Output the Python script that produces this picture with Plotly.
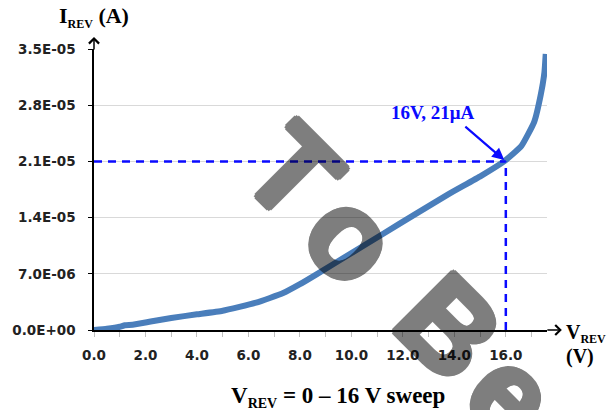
import plotly.graph_objects as go

# ---- data ----
V_VALUES = [0.0, 0.5, 1.0, 1.2, 1.5, 2.2, 3.0, 4.0, 5.0, 6.3, 7.35, 8.0, 8.63, 9.91,
            11.19, 12.47, 13.76, 15.04, 15.93, 16.6, 17.1, 17.35, 17.5, 17.55]
I_VALUES = [0.0, 0.15e-6, 0.4e-6, 0.6e-6, 0.65e-6, 1.05e-6, 1.5e-6, 1.95e-6, 2.4e-6, 3.4e-6,
            4.6e-6, 5.7e-6, 6.9e-6, 9.4e-6, 11.9e-6, 14.4e-6, 16.9e-6, 19.2e-6, 21.0e-6,
            22.9e-6, 25.9e-6, 29.2e-6, 32.1e-6, 34.4e-6]

X_TICK_VALS = [0, 2, 4, 6, 8, 10, 12, 14, 16]
X_TICK_TEXT = ["0.0", "2.0", "4.0", "6.0", "8.0", "10.0", "12.0", "14.0", "16.0"]
Y_TICK_VALS = [0, 7e-6, 1.4e-5, 2.1e-5, 2.8e-5, 3.5e-5]
Y_TICK_TEXT = ["0.0E+00", "7.0E-06", "1.4E-05", "2.1E-05", "2.8E-05", "3.5E-05"]

MARK_V = 16
MARK_I = 2.1e-5
MARK_LABEL = "16V, 21\u03bcA"

WATERMARK = ["T", "o", "B", "e"]

# ---- layout geometry ----
W, H = 608, 410
L, R, T, B = 89, 61, 49, 80
PW, PH = W - L - R, H - T - B


def px(x):
    return (x - L) / PW


def py(y):
    return (H - B - y) / PH


CURVE = "#4a7ebb"
DASH = "#0a0aff"
TICKFONT = dict(family="DejaVu Sans", size=13.5, color="#222222", weight="bold")
SERIF = "Liberation Serif"
SUB = '<sub><span style="font-size:12px">REV</span></sub>'

fig = go.Figure()
fig.add_trace(go.Scatter(x=V_VALUES, y=I_VALUES, mode="lines",
                         line=dict(color=CURVE, width=6, shape="spline", smoothing=0.4),
                         hoverinfo="skip", showlegend=False))

# dashed guide lines to the marked point
fig.add_shape(type="line", x0=0, x1=MARK_V, y0=MARK_I, y1=MARK_I, xref="x", yref="y",
              line=dict(color=DASH, width=2.5, dash="8px,6px"))
fig.add_shape(type="line", x0=MARK_V, x1=MARK_V, y0=0, y1=MARK_I, xref="x", yref="y",
              line=dict(color=DASH, width=2.5, dash="8px,6px"))

annotations = []
# arrow to marked point
annotations.append(dict(x=MARK_V, y=MARK_I, xref="x", yref="y", text="", showarrow=True,
                        ax=-42, ay=-36, arrowhead=2, arrowsize=1.1, arrowwidth=2.2,
                        arrowcolor=DASH, standoff=2))
annotations.append(dict(x=px(432), y=py(112), xref="paper", yref="paper", text="<b>" + MARK_LABEL + "</b>",
                        showarrow=False, font=dict(family=SERIF, size=19, color=DASH),
                        xanchor="center", yanchor="middle"))

# axis arrows
annotations.append(dict(x=0, y=py(37), xref="paper", yref="paper", text="", showarrow=True,
                        ax=0, ay=14, arrowhead=4, arrowsize=1.3, arrowwidth=1.5, arrowcolor="#000"))
annotations.append(dict(x=px(562), y=0, xref="paper", yref="paper", text="", showarrow=True,
                        ax=-16, ay=0, arrowhead=4, arrowsize=1.3, arrowwidth=1.5, arrowcolor="#000"))

# axis titles
annotations.append(dict(x=px(89), y=py(17), xref="paper", yref="paper",
                        text="<b>I" + SUB + " (A)</b>", showarrow=False,
                        font=dict(family=SERIF, size=22, color="#000"), xanchor="center", yanchor="middle"))
annotations.append(dict(x=px(564), y=py(333), xref="paper", yref="paper",
                        text="<b>V" + SUB + "</b>", showarrow=False,
                        font=dict(family=SERIF, size=20, color="#000"), xanchor="left", yanchor="middle"))
annotations.append(dict(x=px(564), y=py(356), xref="paper", yref="paper",
                        text="<b>(V)</b>", showarrow=False,
                        font=dict(family=SERIF, size=20, color="#000"), xanchor="left", yanchor="middle"))
annotations.append(dict(x=px(336), y=py(397), xref="paper", yref="paper",
                        text="<b>V" + '<sub><span style="font-size:14px">REV</span></sub>'
                             + " = 0 \u2013 16 V sweep</b>", showarrow=False,
                        font=dict(family=SERIF, size=23, color="#000"), xanchor="center", yanchor="middle"))

# watermark letters
WM_POS = [(290, 173), (350, 237), (448, 327), (512, 395)]
SHADOW = ", ".join(f"{dx}px {dy}px 0 #000" for dx, dy in
                   [(3, 0), (-3, 0), (0, 3), (0, -3), (2, 2), (-2, -2), (2, -2), (-2, 2)])
for ch, (cx, cy) in zip(WATERMARK, WM_POS):
    annotations.append(dict(x=px(cx), y=py(cy), xref="paper", yref="paper", text="<b>" + ch + "</b>",
                            showarrow=False, textangle=45, opacity=0.5,
                            font=dict(family="Liberation Sans", size=122, color="#000", shadow=SHADOW),
                            xanchor="center", yanchor="middle"))

fig.update_layout(
    width=W, height=H, margin=dict(l=L, r=R, t=T, b=B),
    paper_bgcolor="white", plot_bgcolor="white",
    xaxis=dict(range=[0, 17.6], tickvals=X_TICK_VALS, ticktext=X_TICK_TEXT,
               showgrid=False, zeroline=False, showline=True, linecolor="#000", linewidth=1.5,
               ticks="outside", ticklen=5, tickcolor="#bfbfbf", tickwidth=1,
               minor=dict(dtick=1, tick0=0, ticks="outside", ticklen=5, tickcolor="#bfbfbf", showgrid=False),
               tickfont=TICKFONT, ticklabelstandoff=7, fixedrange=True),
    yaxis=dict(range=[0, 3.5e-5], tickvals=Y_TICK_VALS, ticktext=Y_TICK_TEXT,
               showgrid=True, gridcolor="#d9d9d9", gridwidth=1, zeroline=False,
               showline=True, linecolor="#000", linewidth=1.5,
               ticks="outside", ticklen=4, tickcolor="#000",
               tickfont=TICKFONT, ticklabelstandoff=10, fixedrange=True),
    annotations=annotations,
    showlegend=False,
)

fig.write_html("out.html")
